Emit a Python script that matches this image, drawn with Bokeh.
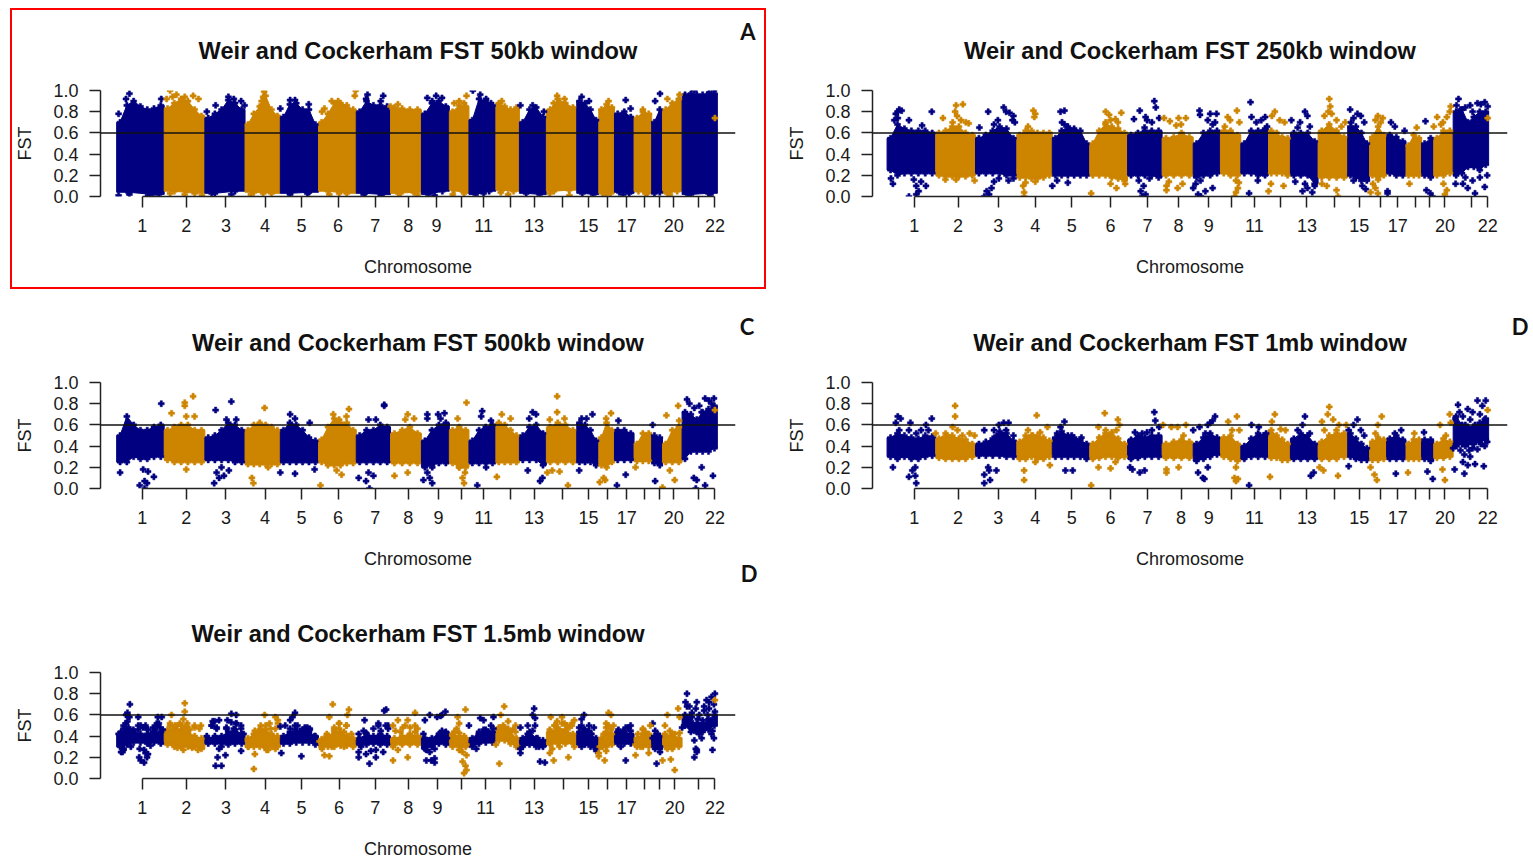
from bisect import bisect_right
from bokeh.plotting import figure
from bokeh.layouts import column, row
from bokeh.models import Range1d, Span, Div, FixedTicker, Title
from bokeh.embed import file_html
from bokeh.resources import INLINE

NAVY = "#000080"
ORANGE = "#CD8500"
INK = "#1a1a1a"
FONT = "Liberation Sans"

LABELLED = {1, 2, 3, 4, 5, 6, 7, 8, 9, 11, 13, 15, 17, 20, 22}

EDGES_L = [236,333,416,498,570,648,725,795,858,915,955,1010,1058,1113,1175,1220,1252,1292,1328,1350,1390,1462]
EDGES_R = [240,340,422,507,580,657,735,806,870,926,968,1025,1070,1127,1188,1233,1268,1308,1340,1365,1405,1478]

TICKS_A = [288,378,459,539,613,688,764,831,889,939,985,1039,1088,1145,1199,1238,1277,1313,1343,1373,1424,1457]
TICKS_B = [296,386,469,545,620,700,776,840,902,948,996,1050,1104,1161,1212,1256,1291,1328,1356,1388,1443,1476]
TICKS_C = [288,378,459,539,613,688,764,831,893,939,985,1039,1088,1145,1199,1238,1277,1313,1343,1373,1424,1457]
TICKS_D = [296,386,469,545,620,700,776,845,902,948,996,1050,1104,1161,1212,1256,1291,1328,1356,1388,1438,1476]
TICKS_E = [288,378,459,539,613,690,764,831,891,939,989,1039,1088,1149,1199,1238,1277,1313,1343,1375,1424,1457]

# --- 50kb window
HI_A = [[.70,.86,.90,.85,.82,.83,.86],[.83,.88,.92,.9,.82,.76],[.74,.78,.82,.91,.88,.82],[.68,.78,.85,.95,.82,.76],
        [.75,.87,.88,.82,.82,.68],[.7,.78,.88,.88,.86,.82],[.8,.9,.86,.86,.85],[.84,.83,.82,.82],[.78,.88,.9,.85],
        [.8,.86,.85],[.72,.92,.9,.86],[.88,.85,.82,.84],[.7,.82,.84,.75],[.82,.92,.88,.84],[.9,.88,.82,.72],
        [.82,.87,.84],[.78,.8,.75],[.74,.8,.78],[.7,.82],[.82,.88,.92],[.96,.97,.96,.96,.96,.97]]
LO_A = [[.04,.02],[.05,.03],[.03,.05],[.04,.03],[.03,.04],[.05,.03],[.03,.02],[.03,.04],[.02,.05],[.06,.03],
        [.02,.05],[.06,.05],[.03,.02],[.05,.06],[.03,.02],[.03,.03],[.04,.03],[.05,.03],[.03,.04],[.03,.05],[.02,.03]]
X_A = [262,255,240,327,345,338,350,358,375,392,403,438,420,464,475,490,497,537,535,532,570,590,600,628,660,655,675,688,
       724,722,748,745,780,775,795,810,870,888,900,880,925,935,950,945,963,978,990,1000,1022,1060,1085,1108,1135,1150,
       1128,1185,1200,1240,1275,1285,1310,1335,1345,1360,1385,1415,1445,1455,
       240,262,300,322,345,375,410,430,470,510,535,590,625,670,690,740,775,815,850,885,922,985,1020,1035,1120,1160,
       1235,1270,1315,1365,1402,1448]
Y_A = [.97,.92,.78,.92,1.0,.92,.94,.96,.94,.95,.92,.86,.8,.94,.92,.9,.86,.99,.94,.9,.83,.91,.91,.87,.83,.8,.9,.9,
       1.0,.95,.96,.92,.95,.9,.85,.87,.93,.95,.93,.9,.88,.9,.95,.88,1.0,.96,.92,.88,.9,.86,.86,.8,.95,.92,
       .88,.94,.9,.9,.91,.83,.82,.9,.97,.92,.96,1.0,.98,1.0,
       .01,.02,.01,.02,.03,.02,.01,.03,.02,.02,.03,.02,.03,.02,.03,.02,.01,.03,.02,.01,.02,.03,.04,.02,.03,.01,
       .02,.02,.03,.02,.02,.02]
XO_A = [1457]
YO_A = [.74]

# --- 250kb window
HI_B = [[.55,.68,.64,.62,.62,.62,.6],[.6,.62,.66,.66,.6,.58],[.55,.58,.62,.66,.64,.55],[.58,.62,.62,.6,.6,.6],
        [.55,.62,.66,.64,.62,.5],[.5,.62,.68,.66,.64,.6],[.58,.6,.62,.62,.62],[.55,.56,.6,.56],[.5,.6,.62,.62],
        [.62,.62,.58],[.5,.62,.62,.64],[.62,.6,.56,.55],[.6,.6,.6,.52],[.62,.68,.62,.56],[.66,.66,.6,.5],
        [.56,.66,.58],[.58,.56,.52],[.48,.58,.55],[.5,.55],[.55,.62,.62],[.8,.82,.7,.75,.8,.8]]
LO_B = [[.25,.2,.22,.22,.22,.22,.22],[.2,.19,.19,.19,.19,.2],[.22,.22,.22,.22,.2,.2],[.18,.18,.17,.17,.18,.2],
        [.2,.2,.2,.2,.2,.2],[.2,.2,.2,.18,.17,.15],[.2,.2,.2,.2,.18],[.2,.2,.2,.2],[.18,.2,.2,.22],[.22,.2,.2],
        [.22,.22,.2,.2],[.22,.22,.22,.2],[.2,.2,.2,.12],[.18,.18,.18,.18],[.2,.18,.15,.15],[.2,.16,.2],[.22,.2,.2],
        [.2,.2,.2],[.2,.18],[.2,.2,.22],[.2,.22,.28,.28,.25,.3]]
X_B = [265,262,270,258,255,285,262,332,312,355,382,396,380,384,392,402,408,375,448,480,485,492,500,498,503,468,460,430,
       541,545,543,530,597,605,600,605,690,697,710,722,700,715,690,760,748,790,793,772,800,810,785,775,770,822,840,855,
       845,835,883,884,905,918,900,915,910,941,946,960,965,935,988,990,1018,1010,1000,1022,1038,1032,1048,1058,1072,1100,
       1105,1090,1110,1085,1150,1152,1148,1155,1140,1165,1183,1175,1193,1208,1200,1215,1195,1222,1250,1260,1245,1256,1277,
       1285,1305,1330,1348,1365,1372,1392,1380,1400,1398,1384,1416,1412,1440,1455,1470,1462,1476,1430,1445,1420,
       252,248,285,300,305,320,300,310,295,440,450,455,460,445,470,490,500,360,382,420,522,522,520,525,545,580,590,612,660,
       700,712,730,765,762,768,772,758,780,815,815,820,848,838,870,880,886,895,875,885,910,955,958,962,958,964,985,1003,
       1025,1030,1056,1080,1095,1105,1115,1120,1100,1168,1145,1135,1165,1200,1218,1225,1235,1245,1250,1240,1270,1270,1315,
       1350,1362,1358,1385,1392,1388,1410,1430,1435,1445,1450,1470,1460,1425,1475]
Y_B = [.82,.8,.81,.78,.72,.72,.74,.8,.67,.74,.86,.87,.8,.76,.72,.7,.69,.7,.8,.84,.8,.79,.76,.72,.7,.72,.68,.65,
       .81,.78,.75,.66,.8,.81,.7,.68,.8,.77,.73,.79,.72,.7,.7,.81,.73,.9,.84,.75,.74,.74,.7,.72,.65,.71,.74,.74,
       .68,.67,.81,.77,.78,.78,.72,.7,.68,.75,.72,.81,.7,.66,.89,.75,.75,.72,.7,.66,.8,.76,.72,.7,.72,.8,
       .76,.7,.66,.65,.92,.85,.8,.78,.76,.72,.7,.66,.82,.78,.74,.76,.7,.7,.76,.74,.72,.7,.7,
       .66,.62,.65,.71,.66,.75,.75,.68,.85,.8,.7,.92,.86,.86,.88,.89,.87,.85,.84,.8,.82,
       .12,.17,.0,.02,.05,.1,.1,.14,.16,.0,.02,.08,.14,.05,.17,.15,.17,.16,.16,.15,.0,.04,.1,.13,.14,.1,.15,.13,.03,
       .12,.08,.12,.0,.05,.1,.02,.15,.17,.06,.1,.14,.12,.08,.08,.02,.0,.05,.12,.15,.08,.0,.04,.08,.15,.13,.03,.15,
       .05,.12,.1,.14,.05,.08,.04,.1,.12,.0,.1,.12,.06,.15,.1,.07,.04,.08,.03,.12,.03,.05,.12,
       .06,.0,.03,.12,.06,.02,.12,.18,.08,.15,.03,.09,.18,.12,.2]
XO_B = [1476]
YO_B = [.74]

# --- 500kb window
HI_C = [[.5,.68,.6,.55,.55,.58,.6],[.55,.58,.6,.6,.55,.55],[.48,.5,.55,.62,.6,.55],[.55,.6,.62,.6,.58,.55],
        [.55,.62,.6,.55,.48,.45],[.46,.58,.66,.62,.62,.55],[.5,.55,.55,.6,.58],[.52,.55,.58,.52],[.45,.55,.6,.62],
        [.55,.58,.55],[.45,.55,.58,.6],[.62,.6,.55,.5],[.5,.58,.6,.52],[.58,.62,.6,.55],[.62,.6,.55,.45],
        [.48,.62,.55],[.55,.55,.52],[.42,.52,.52],[.5,.48],[.42,.55,.58],[.72,.7,.65,.72,.75,.78]]
LO_C = [[.25,.25,.3,.28,.28,.3,.3],[.27,.25,.25,.25,.25,.25],[.27,.27,.27,.27,.25,.25],[.23,.23,.23,.23,.23,.23],
        [.25,.25,.25,.25,.25,.25],[.25,.22,.22,.22,.24,.24],[.25,.25,.25,.25,.25],[.24,.24,.24,.24],[.2,.22,.24,.24],
        [.24,.2,.2],[.24,.24,.24,.24],[.25,.25,.25,.25],[.27,.27,.27,.22],[.25,.25,.25,.25],[.25,.25,.25,.22],
        [.22,.2,.25],[.27,.27,.27],[.26,.26,.26],[.24,.22],[.25,.25,.25],[.28,.35,.35,.35,.35,.38]]
X_C = [327,348,375,375,392,395,378,438,470,460,480,538,590,600,630,678,710,690,705,750,782,782,765,830,825,843,870,870,
       905,892,897,932,950,982,980,1000,1022,1040,1085,1092,1078,1135,1135,1120,1150,1185,1195,1207,1235,1245,1260,1330,
       1358,1382,1384,1400,1415,1437,1455,1445,1425,1450,1405,1430,
       243,283,293,293,298,312,290,300,435,445,440,455,450,465,378,515,512,545,570,600,652,640,695,685,730,745,752,760,750,
       803,830,862,880,870,875,880,945,942,947,935,972,990,1012,1075,1100,1105,1115,1125,1157,1140,1180,1222,1233,1230,
       1257,1275,1295,1335,1350,1375,1365,1414,1420,1437,1453,1430,1418]
Y_C = [.8,.71,.81,.78,.87,.68,.68,.74,.82,.65,.65,.76,.7,.66,.62,.7,.75,.65,.68,.65,.79,.78,.65,.7,.65,.66,.7,.66,
       .71,.7,.66,.66,.81,.73,.68,.64,.7,.66,.72,.7,.66,.87,.72,.65,.66,.66,.66,.7,.66,.71,.64,.6,
       .69,.78,.64,.84,.76,.85,.85,.83,.78,.8,.8,.72,
       .15,.03,.0,.07,.05,.11,.18,.16,.05,.1,.15,.12,.2,.17,.18,.05,.1,.2,.15,.14,.03,.18,.13,.17,.1,.07,.0,.12,.15,
       .12,.15,.08,.05,.15,.1,.2,.05,.1,.15,.2,.03,.2,.11,.17,.07,.1,.15,.17,.03,.16,.17,.06,.08,.1,
       .03,.13,.2,.07,.01,.08,.17,.1,.08,.03,.12,.2,.0]
XO_C = [1457]
YO_C = [.74]

# --- 1mb window
HI_D = [[.48,.52,.5,.48,.47,.5,.49],[.47,.52,.5,.47,.46,.42],[.42,.44,.47,.54,.52,.45],[.44,.5,.5,.5,.48,.45],
        [.48,.54,.5,.48,.46,.42],[.42,.48,.52,.53,.47,.42],[.46,.5,.48,.5,.5],[.42,.44,.46,.44],[.42,.48,.52,.48],
        [.48,.5,.42],[.4,.47,.52,.5],[.55,.5,.46,.42],[.47,.52,.5,.42],[.44,.5,.52,.52],[.52,.47,.42,.38],
        [.44,.48,.46],[.47,.5,.46],[.42,.46,.46],[.46,.46],[.42,.47,.44],[.68,.6,.58,.58,.62,.66]]
LO_D = [[.3,.28,.3,.28,.28,.3,.31],[.29,.28,.28,.28,.28,.3],[.31,.31,.31,.31,.3,.3],[.28,.28,.3,.28,.28,.3],
        [.3,.3,.3,.3,.3,.28],[.28,.29,.3,.3,.29,.3],[.28,.29,.3,.3,.3],[.29,.29,.29,.29],[.26,.28,.3,.32],
        [.3,.28,.26],[.28,.3,.3,.3],[.29,.29,.27,.27],[.28,.28,.28,.28],[.28,.28,.28,.3],[.3,.28,.27,.27],[.27,.27,.28],
        [.28,.28,.28],[.28,.28,.28],[.28,.26],[.29,.29,.3],[.42,.42,.42,.42,.44,.46]]
X_D = [262,268,258,288,332,320,265,285,300,310,325,340,380,380,375,385,395,410,420,440,460,470,480,490,465,485,500,548,
       570,530,540,555,605,597,590,620,640,688,675,715,718,712,690,700,790,792,800,808,775,785,750,765,825,838,855,850,
       870,883,900,915,910,905,895,942,950,960,965,990,1005,1020,1015,1038,1032,1050,1060,1100,1095,1085,1110,1135,1150,
       1147,1158,1170,1140,1165,1185,1208,1200,1215,1190,1222,1258,1250,1245,1298,1285,1325,1345,1378,1398,1400,1390,
       1415,1418,1435,1455,1472,1465,1445,1425,1440,1460,1470,1410,1450,1430,
       252,285,298,300,292,298,440,452,448,450,465,440,522,522,545,575,607,622,660,675,700,710,740,745,760,770,815,815,840,
       880,890,893,900,955,958,962,958,985,1028,1112,1118,1130,1138,1168,1190,1235,1243,1248,1287,1312,1352,1363,1383,
       1388,1408,1428,1435,1450,1468,1440,1425,
       1405,1420,1430,1445,1455,1470,1412,1438,1462,1475,1428]
Y_D = [.68,.66,.62,.62,.66,.6,.55,.55,.52,.55,.55,.52,.78,.68,.58,.55,.5,.52,.5,.55,.55,.6,.62,.62,.5,.55,.5,.69,
       .58,.55,.5,.53,.63,.58,.52,.5,.48,.71,.58,.65,.6,.55,.55,.5,.72,.64,.58,.6,.53,.55,.53,.52,.58,.58,.6,.5,
       .55,.58,.6,.68,.64,.62,.52,.63,.55,.68,.55,.6,.58,.52,.5,.7,.63,.56,.55,.68,.6,.55,.52,.63,.77,
       .7,.65,.6,.55,.55,.6,.65,.6,.55,.55,.5,.68,.6,.52,.55,.52,.52,.53,.6,.7,.62,.5,
       .79,.72,.75,.83,.83,.78,.72,.68,.65,.7,.65,.66,.6,.6,
       .2,.11,.12,.05,.17,.2,.05,.08,.2,.17,.17,.13,.08,.17,.25,.22,.17,.17,.03,.2,.19,.25,.2,.18,.15,.17,.15,.18,.2,
       .15,.1,.09,.2,.1,.07,.09,.2,.03,.11,.12,.15,.2,.17,.12,.21,.2,.13,.08,.14,.15,.16,.09,.18,
       .08,.18,.14,.22,.23,.21,.3,.25,
       .38,.36,.4,.38,.37,.4,.4,.36,.42,.44,.32]
XO_D = [1476]
YO_D = [.74]

# --- 1.5mb window
HI_E = [[.42,.46,.44,.42,.42,.44,.44],[.46,.48,.46,.44,.4,.38],[.38,.4,.4,.44,.46,.42],[.38,.42,.46,.46,.42,.4],
        [.4,.44,.44,.46,.44,.4],[.37,.4,.44,.44,.4,.38],[.38,.42,.4,.42,.4],[.38,.4,.42,.4],[.38,.38,.42,.44],
        [.42,.4,.38],[.38,.44,.46,.44],[.48,.48,.44,.38],[.38,.44,.38,.36],[.44,.48,.46,.42],[.44,.46,.42,.38],
        [.38,.44,.42],[.44,.44,.42],[.38,.42,.42],[.4,.4],[.4,.42,.38],[.6,.54,.52,.52,.56,.6]]
LO_E = [[.3,.32,.34,.34,.33,.34,.33],[.32,.3,.3,.3,.3,.28],[.33,.33,.33,.32,.33,.33],[.3,.3,.3,.29,.3,.3],
        [.33,.33,.34,.34,.34,.32],[.3,.3,.3,.31,.31,.3],[.32,.32,.33,.32,.32],[.32,.32,.32,.32],[.28,.3,.33,.32],
        [.3,.3,.3],[.3,.33,.34,.34],[.36,.36,.33,.3],[.3,.32,.3,.3],[.32,.33,.33,.33],[.32,.32,.3,.28],[.3,.3,.32],
        [.33,.33,.33],[.3,.3,.3],[.3,.28],[.3,.3,.3],[.5,.44,.44,.44,.46,.5]]
X_E = [263,258,255,262,250,258,280,280,295,320,328,318,310,348,345,375,375,372,380,360,395,408,432,430,440,470,480,462,
       480,490,460,538,560,565,530,548,590,595,600,605,625,630,677,670,710,707,690,680,705,742,770,782,786,790,800,810,
       830,845,865,845,820,875,890,897,907,900,948,932,935,955,978,985,1005,1000,1020,1027,1035,1050,1060,1088,1085,1090,
       1075,1122,1145,1150,1130,1165,1170,1190,1185,1200,1210,1240,1245,1235,1250,1285,1280,1310,1330,1325,1360,1355,1382,
       1385,1395,1390,1400,1397,1400,1420,1418,1440,1450,1457,1445,1455,1435,1425,1457,1410,1405,
       245,250,285,292,298,300,282,438,450,442,458,516,518,542,572,613,660,670,730,752,765,780,800,830,868,878,885,885,
       945,948,950,942,950,942,1017,1060,1100,1110,1120,1128,1158,1220,1232,1275,1295,1322,1338,1350,1375,1367,1345,1415,
       1420,1452,
       255,260,262,250,245,240,285,290,295,280,300,270,318,325,315,322,330,310,246,250,248,283,292,295,265,305,
       345,355,365,370,380,395,405,375,385,360,372,402,390,
       440,430,436,445,470,480,460,475,490,495,450,445,490,420,
       518,530,540,550,560,565,570,525,560,545,505,
       580,590,600,620,630,610,600,640,650,
       660,665,680,690,700,705,690,715,655,675,700,
       730,740,745,760,770,785,775,790,730,745,755,765,735,
       805,815,825,835,845,850,800,810,
       862,870,880,885,868,875,895,900,905,910,888,
       925,930,935,945,950,940,935,
       965,975,985,995,1005,1000,970,1010,
       1020,1025,1035,1045,1050,1040,1055,1060,
       1065,1075,1085,1090,1078,1095,1105,1098,
       1120,1130,1135,1145,1155,1160,1165,1125,1140,1170,
       1180,1185,1190,1200,1205,1195,1210,1215,1185,1220,
       1230,1235,1240,1228,1245,1235,1222,
       1260,1270,1275,1285,1265,
       1300,1310,1315,1295,1305,
       1335,1330,1340,1335,1345,
       1355,1365,1375,1385,1360,1370,
       1405,1410,1398,1415,1425,1430,1432,1440,1442,1450,1455,1445,1435,1422,1408,1425,1415,1418,1420,1452]
Y_E = [.7,.62,.6,.58,.5,.54,.58,.5,.48,.58,.58,.52,.48,.6,.52,.71,.63,.56,.52,.5,.5,.5,.54,.5,.48,.61,.6,.55,
       .52,.5,.48,.6,.58,.55,.5,.52,.55,.58,.62,.5,.48,.47,.7,.58,.65,.6,.52,.48,.5,.55,.5,.64,.65,.5,.5,.55,
       .55,.62,.55,.5,.48,.6,.58,.59,.63,.6,.65,.58,.52,.5,.57,.55,.58,.5,.6,.68,.54,.5,.48,.66,.6,.57,
       .5,.58,.58,.52,.5,.5,.55,.6,.56,.5,.48,.62,.6,.52,.5,.5,.48,.47,.52,.5,.6,.5,.66,
       .58,.5,.48,.8,.72,.68,.72,.66,.74,.77,.8,.72,.7,.64,.6,.63,.62,.58,
       .25,.28,.17,.15,.2,.23,.2,.12,.12,.2,.22,.09,.23,.27,.24,.21,.22,.21,.2,.14,.2,.25,.17,.2,.17,.17,.19,.15,
       .05,.12,.08,.16,.22,.25,.14,.24,.16,.15,.24,.17,.2,.21,.17,.17,.22,.24,.14,.17,.08,.18,.25,.2,
       .27,.27,
       .52,.48,.46,.47,.44,.42,.5,.48,.5,.46,.46,.46,.5,.48,.46,.52,.46,.44,.3,.27,.25,.28,.27,.24,.3,.31,
       .5,.5,.52,.5,.49,.48,.47,.47,.46,.29,.27,.27,.29,
       .47,.5,.54,.55,.53,.52,.47,.47,.47,.42,.3,.28,.26,.4,
       .45,.47,.5,.47,.47,.52,.49,.42,.28,.27,.3,
       .5,.47,.5,.48,.46,.45,.46,.4,.35,
       .38,.42,.46,.52,.44,.5,.47,.42,.28,.3,.3,
       .42,.45,.43,.47,.52,.5,.45,.47,.25,.23,.26,.27,.3,
       .45,.44,.5,.48,.44,.47,.3,.27,
       .42,.36,.32,.28,.27,.25,.42,.45,.43,.38,.38,
       .44,.47,.43,.4,.32,.3,.27,
       .35,.42,.46,.44,.47,.4,.28,.32,
       .48,.5,.47,.46,.44,.35,.3,.28,
       .35,.42,.45,.5,.38,.38,.32,.3,
       .46,.5,.54,.52,.5,.48,.52,.28,.3,.3,
       .48,.5,.46,.45,.42,.34,.3,.26,.3,.24,
       .42,.48,.5,.3,.46,.26,.3,
       .46,.45,.48,.45,.3,
       .42,.46,.44,.32,.3,
       .45,.38,.42,.28,.3,
       .42,.45,.42,.43,.28,.28,
       .68,.58,.55,.45,.42,.38,.55,.5,.6,.42,.38,.66,.68,.56,.5,.5,.36,.28,.25,.45]
XO_E = [1457]
YO_E = [.74]


def make_panel(title, edges, ticks, hi, lo, xs, ys, xo, yo, x_start, x_end, bottom_pad, title_standoff):
    p = figure(output_backend="svg", toolbar_location=None,
               x_range=Range1d(x_start, x_end), y_range=Range1d(0, 1),
               min_border_left=100, min_border_right=37, min_border_top=90,
               min_border_bottom=bottom_pad, frame_height=106, frame_width=635)
    p.grid.visible = False
    p.outline_line_color = None
    p.background_fill_color = "white"

    envelope_x, envelope_y, envelope_c = [], [], []
    for i in range(len(edges) - 1):
        a, b = edges[i], edges[i + 1]
        colour = NAVY if i % 2 == 0 else ORANGE
        top = [(a + (b - a) * (k + 0.5) / len(hi[i]), v) for k, v in enumerate(hi[i])]
        low = [(a + (b - a) * (k + 0.5) / len(lo[i]), v) for k, v in enumerate(lo[i])]
        outline = [(a, hi[i][0])] + top + [(b, hi[i][-1]), (b, lo[i][-1])] + low[::-1] + [(a, lo[i][0])]
        p.patch([q[0] for q in outline], [q[1] for q in outline], color=colour, line_width=1)
        for q in top + low:
            envelope_x.append(q[0]); envelope_y.append(q[1]); envelope_c.append(colour)

    point_c = []
    for x in xs:
        k = min(max(bisect_right(edges, x) - 1, 0), len(edges) - 2)
        point_c.append(NAVY if k % 2 == 0 else ORANGE)

    p.scatter(envelope_x, envelope_y, marker="plus", size=6, color=envelope_c, line_width=0.5)
    p.scatter(xs, ys, marker="plus", size=6, color=point_c, line_width=0.5)
    p.scatter(xo, yo, marker="plus", size=6, color=ORANGE, line_width=0.5)

    p.add_layout(Span(location=0.6, dimension="width", line_color="#111111", line_width=1.5))

    p.title = Title(text=title, align="center", text_font=FONT, text_font_style="bold",
                    text_font_size="23.6px", text_color="#111111", standoff=title_standoff)

    ya = p.yaxis[0]
    ya.ticker = FixedTicker(ticks=[0, .2, .4, .6, .8, 1.0])
    ya.major_label_overrides = {0: "0.0", .2: "0.2", .4: "0.4", .6: "0.6", .8: "0.8", 1: "1.0"}
    ya.major_label_orientation = "horizontal"
    ya.major_tick_in = 0
    ya.major_tick_out = 11
    ya.minor_tick_line_color = None
    ya.axis_label = "FST"
    ya.axis_label_standoff = 15
    ya.major_label_standoff = 11

    xa = p.xaxis[0]
    xa.ticker = FixedTicker(ticks=ticks)
    xa.major_label_overrides = {t: (str(i + 1) if (i + 1) in LABELLED else "") for i, t in enumerate(ticks)}
    xa.bounds = (ticks[0], ticks[-1])
    xa.major_tick_in = 0
    xa.major_tick_out = 11
    xa.minor_tick_line_color = None
    xa.axis_label = "Chromosome"
    xa.axis_label_standoff = 22
    xa.major_label_standoff = 11

    for a in (xa, ya):
        a.axis_line_color = "#222222"
        a.axis_line_width = 1.5
        a.major_tick_line_color = "#222222"
        a.major_tick_line_width = 1.5
        a.major_label_text_font = FONT
        a.major_label_text_font_size = "18px"
        a.major_label_text_color = INK
        a.axis_label_text_font = FONT
        a.axis_label_text_font_size = "18px"
        a.axis_label_text_font_style = "normal"
        a.axis_label_text_color = INK
    return p


def letter(text, x, y):
    return Div(text=text, margin=0, width=30, height=26,
               styles={"position": "absolute", "left": f"{x - 15}px", "top": f"{y - 13}px", "z-index": "5",
                       "font-family": "Lato", "font-weight": "bold", "font-size": "22px", "line-height": "26px",
                       "text-align": "center", "color": "#111111"})


L_START, L_END = 203, 203 + 635 * 2.041
R_START, R_END = 210, 210 + 635 * 2.058

pA = make_panel("Weir and Cockerham FST 50kb window", EDGES_L, TICKS_A, HI_A, LO_A, X_A, Y_A, XO_A, YO_A, L_START, L_END, 96, 54)
pB = make_panel("Weir and Cockerham FST 250kb window", EDGES_R, TICKS_B, HI_B, LO_B, X_B, Y_B, XO_B, YO_B, R_START, R_END, 96, 54)
pC = make_panel("Weir and Cockerham FST 500kb window", EDGES_L, TICKS_C, HI_C, LO_C, X_C, Y_C, XO_C, YO_C, L_START, L_END, 94, 54)
pD = make_panel("Weir and Cockerham FST 1mb window", EDGES_R, TICKS_D, HI_D, LO_D, X_D, Y_D, XO_D, YO_D, R_START, R_END, 94, 54)
pE = make_panel("Weir and Cockerham FST 1.5mb window", EDGES_L, TICKS_E, HI_E, LO_E, X_E, Y_E, XO_E, YO_E, L_START, L_END, 80, 52)

red_box = Div(text='<div style="width:756px;height:281px;border:2px solid #ff0000;pointer-events:none"></div>',
              margin=0, styles={"position": "absolute", "left": "10px", "top": "8px", "z-index": "4"})

layout = column(row(pA, pB, spacing=0), row(pC, pD, spacing=0), pE,
                red_box, letter("A", 748, 32), letter("C", 747, 327), letter("D", 1520, 327), letter("D", 749, 574),
                spacing=0)
open("out.html", "w").write(file_html(layout, INLINE))
